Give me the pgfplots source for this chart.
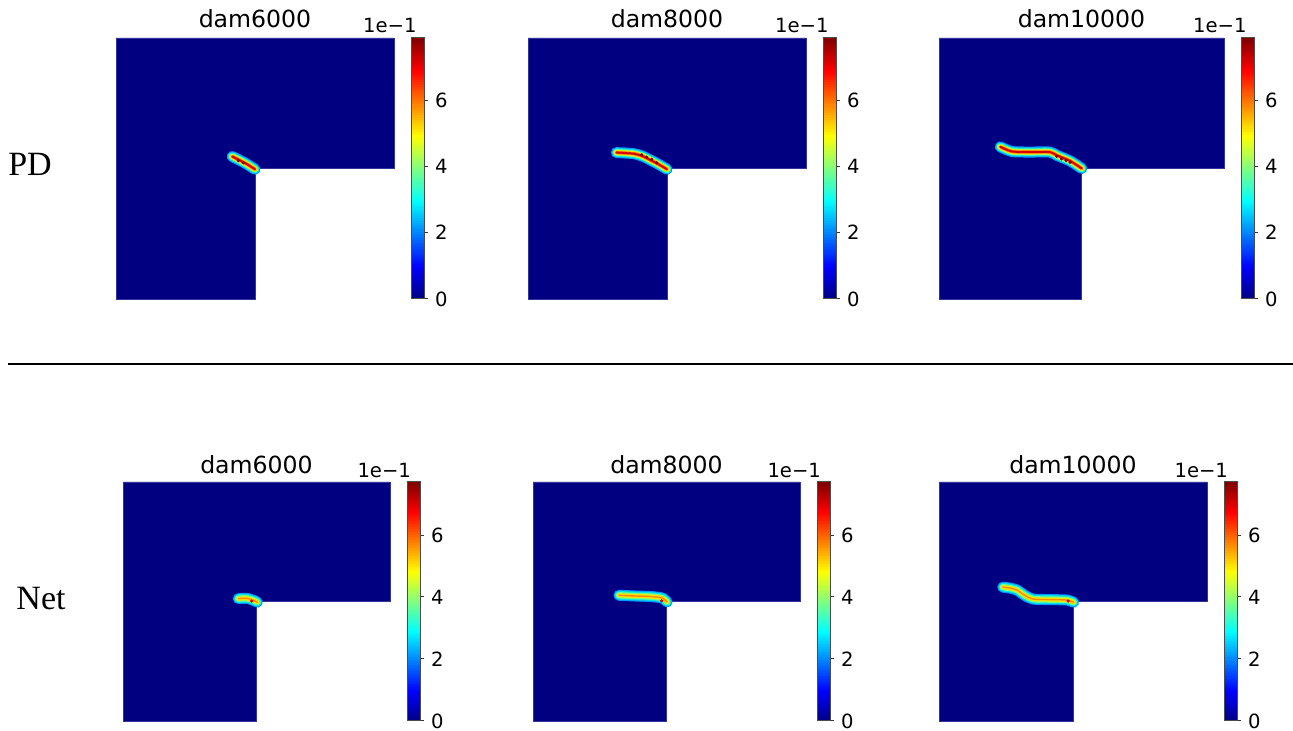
\documentclass[border=0pt]{standalone}
\usepackage{fontspec}
\setmainfont{DejaVu Sans}
\newfontfamily\seriffont{Liberation Serif}
\usepackage{pgfplots}
\usepackage{pgfplotstable}
\pgfplotsset{compat=1.18}
\pgfplotsset{/pgf/number format/assume math mode=true}

\definecolor{jetnavy}{RGB}{0,0,128}
\definecolor{cA}{RGB}{0,150,255}
\definecolor{cB}{RGB}{0,225,235}
\definecolor{cC}{RGB}{120,255,130}
\definecolor{cD}{RGB}{250,225,0}
\definecolor{cE}{RGB}{255,100,0}
\definecolor{cF}{RGB}{215,0,0}
\definecolor{cG}{RGB}{110,0,0}

\newcommand{\ticksize}{\fontsize{9.8}{11}\selectfont}
\newcommand{\titlesize}{\fontsize{11.8}{13}\selectfont}

% L-shaped domain outline
\pgfplotstableread{
x y
0 0
0.5 0
0.5 0.5
1 0.5
1 1
0 1
0 0
}\domainL

% crack paths (PD)
\pgfplotstableread{
x y
0.418 0.546
0.464 0.521
0.500 0.497
}\crackTa
\pgfplotstableread{
x y
0.440 0.530
0.458 0.522
}\dotTa
\pgfplotstableread{
x y
0.318 0.561
0.378 0.557
0.410 0.548
0.439 0.533
0.468 0.517
0.500 0.497
}\crackTb
\pgfplotstableread{
x y
0.409 0.552
0.427 0.543
0.445 0.535
0.463 0.522
}\dotTb
\pgfplotstableread{
x y
0.215 0.583
0.256 0.565
0.319 0.563
0.389 0.563
0.414 0.550
0.460 0.529
0.501 0.500
}\crackTc
\pgfplotstableread{
x y
0.413 0.547
0.430 0.537
0.446 0.531
0.460 0.524
}\dotTc

% crack paths (Net)
\pgfplotstableread{
x y
0.432 0.512
0.464 0.513
0.491 0.504
0.503 0.497
}\crackBa
\pgfplotstableread{
x y
0.482 0.502
}\dotBa
\pgfplotstableread{
x y
0.322 0.526
0.382 0.523
0.438 0.521
0.483 0.515
0.502 0.498
}\crackBb
\pgfplotstableread{
x y
0.482 0.503
}\dotBb
\pgfplotstableread{
x y
0.238 0.560
0.265 0.556
0.291 0.548
0.321 0.525
0.351 0.510
0.414 0.508
0.478 0.506
0.502 0.497
}\crackBc
\pgfplotstableread{
x y
0.482 0.502
}\dotBc

\pgfplotsset{
  crk/.style={no marks, line cap=round, line join=round, smooth, tension=0.4},
  dom/.style={scale only axis, hide axis, clip=false, anchor=south west,
    xmin=0, xmax=1, ymin=0, ymax=1,
    colormap/jet, point meta min=0, colorbar sampled,
    colorbar style={anchor=north west, samples=120,
      width=6.75pt, ytick={0,2,4,6}, ytick pos=right, yticklabel pos=right,
      ytick align=outside, major tick length=1.75pt,
      tick style={black!80, line width=0.5pt},
      axis line style={black!70, line width=0.5pt},
      yticklabel style={font=\ticksize}}},
  cbtop/.style={colorbar style={at={([xshift=9pt]parent axis.north east)}}},
  cbbot/.style={colorbar style={at={([xshift=8.5pt]parent axis.north east)}}},
}

\newcommand{\domfill}{\addplot[fill=jetnavy, draw=jetnavy!80!white, line width=0.3pt] table {\domainL};}
\newcommand{\crackT}[2]{%
  \addplot[crk, line width=5.5pt, cA] table {#1};
  \addplot[crk, line width=4.4pt, cB] table {#1};
  \addplot[crk, line width=3.4pt, cC] table {#1};
  \addplot[crk, line width=2.5pt, cD] table {#1};
  \addplot[crk, line width=1.6pt, cE] table {#1};
  \addplot[crk, line width=0.9pt, cF] table {#1};
  \addplot[only marks, mark=*, mark size=0.6pt, cG] table {#2};
}
\newcommand{\crackB}[2]{%
  \addplot[crk, line width=5.5pt, cA] table {#1};
  \addplot[crk, line width=4.4pt, cB] table {#1};
  \addplot[crk, line width=3.2pt, cC] table {#1};
  \addplot[crk, line width=2.0pt, cD] table {#1};
  \addplot[crk, line width=0.7pt, cE, opacity=0.7] table {#1};
  \addplot[only marks, mark=*, mark size=0.6pt, cF] table {#2};
}
\newcommand{\topdeco}[1]{%
  \node[anchor=base, font=\titlesize, yshift=5pt] at (rel axis cs:0.5,1) {#1};
  \node[anchor=base east, font=\ticksize, xshift=14.8pt, yshift=2.5pt] at (rel axis cs:1,1) {1e−1};
}
\newcommand{\botdeco}[1]{%
  \node[anchor=base, font=\titlesize, yshift=4pt] at (rel axis cs:0.5,1) {#1};
  \node[anchor=base east, font=\ticksize, xshift=14pt, yshift=2pt] at (rel axis cs:1,1) {1e−1};
}

\begin{document}
\begin{tikzpicture}
\path[use as bounding box] (0,0) rectangle (646.5pt,365.5pt);

% ---- top row (PD)
\begin{axis}[dom, cbtop, at={(58pt,216pt)}, width=139pt, height=130.5pt,
  point meta max=7.87]
\domfill
\crackT{\crackTa}{\dotTa}
\topdeco{dam6000}
\end{axis}
\begin{axis}[dom, cbtop, at={(264pt,216pt)}, width=139pt, height=130.5pt,
  point meta max=7.87]
\domfill
\crackT{\crackTb}{\dotTb}
\topdeco{dam8000}
\end{axis}
\begin{axis}[dom, cbtop, at={(469.5pt,216pt)}, width=142.5pt, height=130.5pt,
  point meta max=7.87]
\domfill
\crackT{\crackTc}{\dotTc}
\topdeco{dam10000}
\end{axis}

% ---- bottom row (Net)
\begin{axis}[dom, cbbot, at={(61.5pt,5pt)}, width=133.5pt, height=119.5pt,
  point meta max=7.71]
\domfill
\crackB{\crackBa}{\dotBa}
\botdeco{dam6000}
\end{axis}
\begin{axis}[dom, cbbot, at={(266.5pt,5pt)}, width=133.5pt, height=119.5pt,
  point meta max=7.71]
\domfill
\crackB{\crackBb}{\dotBb}
\botdeco{dam8000}
\end{axis}
\begin{axis}[dom, cbbot, at={(469.5pt,5pt)}, width=134pt, height=119.5pt,
  point meta max=7.71]
\domfill
\crackB{\crackBc}{\dotBc}
\botdeco{dam10000}
\end{axis}

% row labels and separator
\node[font=\seriffont\fontsize{17}{20}\selectfont] at (15pt,283.5pt) {PD};
\node[font=\seriffont\fontsize{17}{20}\selectfont] at (20.5pt,66pt) {Net};
\draw[line width=1.1pt] (4pt,183.5pt) -- (646.5pt,183.5pt);
\end{tikzpicture}
\end{document}
